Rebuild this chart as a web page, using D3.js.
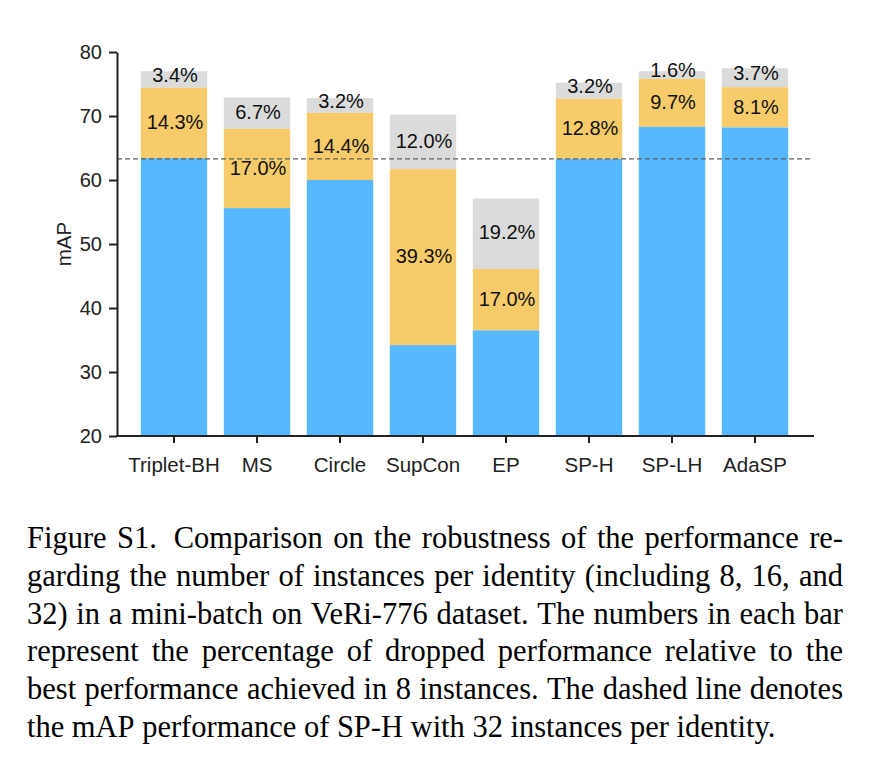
<!DOCTYPE html>
<html>
<head>
<meta charset="utf-8">
<script src="https://cdn.jsdelivr.net/npm/d3@7"></script>
<style>
  html, body { margin: 0; padding: 0; background: #fff; }
  svg { display: block; }
</style>
</head>
<body>
<svg id="chart" width="874" height="762"></svg>
<script>
// ---- data ----
const categories = ["Triplet-BH", "MS", "Circle", "SupCon", "EP", "SP-H", "SP-LH", "AdaSP"];
const map32 = [63.4, 55.6, 60.0, 34.2, 36.5, 63.3, 68.3, 68.2];   // blue (32 instances)
const map16 = [74.4, 68.0, 70.5, 61.7, 46.1, 72.7, 75.8, 74.5];   // orange top (16 instances)
const map8  = [77.0, 72.9, 72.8, 70.2, 57.1, 75.2, 77.0, 77.45];  // gray top (8 instances)
const dropGray   = ["3.4%", "6.7%", "3.2%", "12.0%", "19.2%", "3.2%", "1.6%", "3.7%"];
const dropOrange = ["14.3%", "17.0%", "14.4%", "39.3%", "17.0%", "12.8%", "9.7%", "8.1%"];
const yTicks = [20, 30, 40, 50, 60, 70, 80];
const refLine = 63.3; // SP-H with 32 instances
const captionLines = [
  "Figure S1.  Comparison on the robustness of the performance re-",
  "garding the number of instances per identity (including 8, 16, and",
  "32) in a mini-batch on VeRi-776 dataset. The numbers in each bar",
  "represent the percentage of dropped performance relative to the",
  "best performance achieved in 8 instances. The dashed line denotes",
  "the mAP performance of SP-H with 32 instances per identity."
];

// ---- layout ----
const svg = d3.select("#chart");
const axisColor = "#222";
const font = "'Liberation Sans', Arial, Helvetica, sans-serif";
const colBlue = "#57B8FF", colOrange = "#F7CB69", colGray = "#DBDBDB";

const x = d3.scaleBand().domain(categories).range([132.5, 796.5]).paddingInner(0.2).paddingOuter(0.1);
const y = d3.scaleLinear().domain([20, 80]).range([436, 52]);
const axisLeftX = 117, axisRightX = 814;

const rows = categories.map((c, i) => ({c, b: map32[i], o: map16[i], g: map8[i], lg: dropGray[i], lo: dropOrange[i]}));

const bars = svg.append("g");
bars.selectAll("rect.gray").data(rows).join("rect")
  .attr("x", d => x(d.c)).attr("width", x.bandwidth())
  .attr("y", d => y(d.g)).attr("height", d => y(d.o) - y(d.g))
  .attr("fill", colGray);
bars.selectAll("rect.orange").data(rows).join("rect")
  .attr("x", d => x(d.c)).attr("width", x.bandwidth())
  .attr("y", d => y(d.o)).attr("height", d => y(d.b) - y(d.o))
  .attr("fill", colOrange);
bars.selectAll("rect.blue").data(rows).join("rect")
  .attr("x", d => x(d.c)).attr("width", x.bandwidth())
  .attr("y", d => y(d.b)).attr("height", d => y(20) - y(d.b))
  .attr("fill", colBlue);

// dashed reference line
svg.append("line")
  .attr("x1", axisLeftX).attr("x2", 811)
  .attr("y1", y(refLine)).attr("y2", y(refLine))
  .attr("stroke", "#606060").attr("stroke-width", 1.2)
  .attr("stroke-dasharray", "5,3");

// labels
const lbl = svg.append("g").attr("font-family", font).attr("font-size", 20).attr("fill", "#111").attr("text-anchor", "middle");
lbl.selectAll("text.g").data(rows).join("text")
  .attr("x", d => x(d.c) + x.bandwidth() / 2 + 1)
  .attr("y", d => { const h = y(d.o) - y(d.g); const c = (y(d.g) + y(d.o)) / 2; return c - (h < 25 ? 5 : 1.5); })
  .attr("dy", "0.36em")
  .text(d => d.lg);
lbl.selectAll("text.o").data(rows).join("text")
  .attr("x", d => x(d.c) + x.bandwidth() / 2 + 1)
  .attr("y", d => (y(d.o) + y(d.b)) / 2 - 1)
  .attr("dy", "0.36em")
  .text(d => d.lo);

// y axis
const yAxis = svg.append("g").attr("transform", `translate(${axisLeftX},0)`)
  .call(d3.axisLeft(y).tickValues(yTicks).tickSize(8).tickSizeOuter(0).tickPadding(7));
yAxis.select(".domain").attr("stroke", axisColor).attr("stroke-width", 2);
yAxis.selectAll(".tick line").attr("stroke", axisColor).attr("stroke-width", 2);
yAxis.selectAll(".tick text").attr("font-family", font).attr("font-size", 20).attr("fill", axisColor);

// x axis
const xAxis = svg.append("g").attr("transform", `translate(0,${y(20)})`)
  .call(d3.axisBottom(x).tickSize(7).tickSizeOuter(0).tickPadding(14));
xAxis.select(".domain").remove();
xAxis.selectAll(".tick line").attr("stroke", axisColor).attr("stroke-width", 2);
xAxis.selectAll(".tick text").attr("font-family", font).attr("font-size", 20.5).attr("fill", axisColor);
svg.append("line").attr("x1", axisLeftX - 1).attr("x2", axisRightX)
  .attr("y1", y(20)).attr("y2", y(20)).attr("stroke", axisColor).attr("stroke-width", 2);

// y label
svg.append("text")
  .attr("transform", `translate(71,${(y(20) + y(80)) / 2}) rotate(-90)`)
  .attr("text-anchor", "middle").attr("font-family", font).attr("font-size", 20.5).attr("fill", axisColor)
  .text("mAP");

// caption (justified)
const cap = svg.append("g").attr("font-family", "'Liberation Serif', 'Times New Roman', serif").attr("font-size", 30.5).attr("fill", "#000");
const capLeft = 27, capRight = 843, capTop = 548.3, lineH = 37.7;
captionLines.forEach((line, li) => {
  const words = line.split(/\s+/);
  const by = capTop + li * lineH;
  const last = li === captionLines.length - 1;
  const widths = words.map(w => {
    const t = cap.append("text").text(w);
    const wd = t.node().getComputedTextLength();
    t.remove();
    return wd;
  });
  const total = d3.sum(widths);
  const gaps = words.length - 1;
  const weights = words.slice(0, -1).map(w => w === "S1." ? 1.6 : 1);
  const wsum = d3.sum(weights);
  const gapUnit = last ? 7.6 : (capRight - capLeft - total) / wsum;
  let cx = capLeft;
  words.forEach((w, i) => {
    cap.append("text").attr("x", cx).attr("y", by).text(w);
    cx += widths[i] + (i < gaps ? gapUnit * weights[i] : 0);
  });
});
</script>
</body>
</html>
